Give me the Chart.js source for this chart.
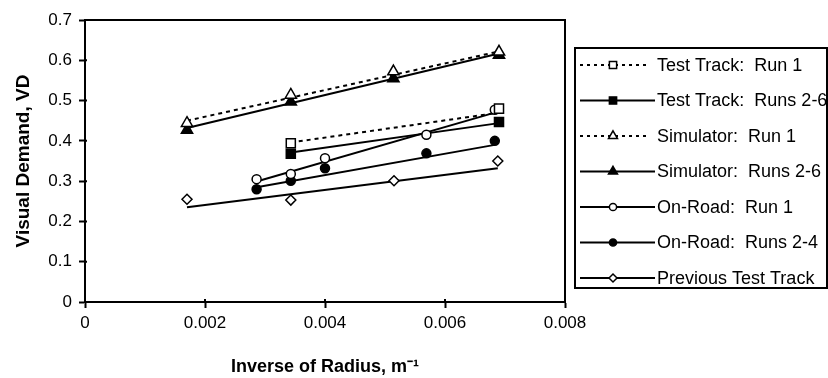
<!DOCTYPE html>
<html>
<head>
<meta charset="utf-8">
<script src="https://cdn.jsdelivr.net/npm/chart.js@4.4.1/dist/chart.umd.min.js"></script>
<style>
  html, body { margin: 0; padding: 0; background: #fff; }
  #wrap { width: 828px; height: 378px; position: relative; }
</style>
</head>
<body>
<div id="wrap"><canvas id="chart"></canvas></div>
<script>
// Valores (x = inversa del radio, y = demanda visual)
const seriesNames = [
  "Test Track:  Run 1",
  "Test Track:  Runs 2-6",
  "Simulator:  Run 1",
  "Simulator:  Runs 2-6",
  "On-Road:  Run 1",
  "On-Road:  Runs 2-4",
  "Previous Test Track"
];

const ttX = [0.00343, 0.0069];
const tt1Y = [0.394, 0.480];
const tt26Y = [0.368, 0.447];

const simX = [0.0017, 0.00343, 0.00514, 0.0069];
const sim1Y = [0.444, 0.514, 0.572, 0.621];
const sim26Y = [0.427, 0.497, 0.555, 0.613];

const roadX = [0.00286, 0.00343, 0.004, 0.00569, 0.00683];
const road1Y = [0.305, 0.318, 0.357, 0.415, 0.477];
const road24Y = [0.280, 0.301, 0.332, 0.369, 0.400];

const prevX = [0.0017, 0.00343, 0.00515, 0.00688];
const prevY = [0.255, 0.253, 0.301, 0.350];

// Líneas de tendencia: valor en el primer y último x de cada serie
const tt1Trend = [0.396, 0.470];
const tt26Trend = [0.371, 0.444];
const sim1Trend = [0.450, 0.622];
const sim26Trend = [0.432, 0.617];
const road1Trend = [0.299, 0.470];
const road24Trend = [0.285, 0.390];
const prevTrend = [0.235, 0.332];

const xTickLabels = ["0", "0.002", "0.004", "0.006", "0.008"];
const yTickLabels = ["0", "0.1", "0.2", "0.3", "0.4", "0.5", "0.6", "0.7"];

const FONT = "'Liberation Sans', Arial, sans-serif";
Chart.defaults.font.family = FONT;
Chart.defaults.color = "#000";

const markerRadius = { rect: 6.4, triangle: 6.5, circle: 4.5, rectRot: 5 };

const series = [
  { x: ttX,   y: tt1Y,    trend: tt1Trend,    marker: "rect",     filled: false, dashed: true },
  { x: ttX,   y: tt26Y,   trend: tt26Trend,   marker: "rect",     filled: true,  dashed: false },
  { x: simX,  y: sim1Y,   trend: sim1Trend,   marker: "triangle", filled: false, dashed: true },
  { x: simX,  y: sim26Y,  trend: sim26Trend,  marker: "triangle", filled: true,  dashed: false },
  { x: roadX, y: road1Y,  trend: road1Trend,  marker: "circle",   filled: false, dashed: false },
  { x: roadX, y: road24Y, trend: road24Trend, marker: "circle",   filled: true,  dashed: false },
  { x: prevX, y: prevY,   trend: prevTrend,   marker: "rectRot",  filled: false, dashed: false }
];

const datasets = [];
series.forEach((s, i) => {
  datasets.push({
    label: seriesNames[i],
    data: s.x.map((x, k) => ({ x: x, y: s.y[k] })),
    showLine: false,
    pointStyle: s.marker,
    pointRadius: markerRadius[s.marker],
    pointBackgroundColor: s.filled ? "#000" : "#fff",
    pointBorderColor: "#000",
    pointBorderWidth: 1.5,
    order: 1
  });
  datasets.push({
    label: seriesNames[i] + " trend",
    data: [
      { x: s.x[0], y: s.trend[0] },
      { x: s.x[s.x.length - 1], y: s.trend[1] }
    ],
    showLine: true,
    pointRadius: 0,
    borderColor: "#000",
    borderWidth: 2,
    borderDash: s.dashed ? [4, 4] : [],
    order: 2
  });
});

// Marco del área de trazado y marcas interiores de los ejes
const framePlugin = {
  id: "frame",
  afterDraw(chart) {
    const { ctx, chartArea: a, scales } = chart;
    ctx.save();
    ctx.strokeStyle = "#000";
    ctx.lineWidth = 2;
    ctx.strokeRect(a.left, a.top, a.right - a.left, a.bottom - a.top);
    ctx.beginPath();
    scales.x.ticks.forEach(t => {
      const px = scales.x.getPixelForValue(t.value);
      ctx.moveTo(px, a.bottom);
      ctx.lineTo(px, a.bottom - 3);
    });
    scales.y.ticks.forEach(t => {
      const py = scales.y.getPixelForValue(t.value);
      ctx.moveTo(a.left, py);
      ctx.lineTo(a.left + 2, py);
    });
    ctx.stroke();
    ctx.restore();
  }
};

// Leyenda con recuadro al estilo Excel
const legendPlugin = {
  id: "boxLegend",
  afterDraw(chart) {
    const ctx = chart.ctx;
    const box = { left: 575, top: 48, width: 252, height: 240 };
    ctx.save();
    ctx.strokeStyle = "#000";
    ctx.lineWidth = 2;
    ctx.strokeRect(box.left, box.top, box.width, box.height);
    ctx.font = "18px " + FONT;
    ctx.textBaseline = "middle";
    ctx.textAlign = "left";
    series.forEach((s, i) => {
      const y = box.top + 17 + i * 35.5;
      ctx.beginPath();
      ctx.lineWidth = 2;
      ctx.setLineDash(s.dashed ? [3, 4] : []);
      ctx.moveTo(580, y);
      ctx.lineTo(s.dashed ? 647 : 655, y);
      ctx.stroke();
      ctx.setLineDash([]);
      ctx.fillStyle = s.filled ? "#000" : "#fff";
      ctx.lineWidth = 1.5;
      Chart.helpers.drawPoint(ctx, {
        pointStyle: s.marker,
        radius: markerRadius[s.marker] * 0.8,
        rotation: 0,
        borderWidth: 1.5
      }, 613, y);
      ctx.fillStyle = "#000";
      ctx.fillText(seriesNames[i], 657, y + 1);
    });
    ctx.restore();
  }
};

new Chart(document.getElementById("chart"), {
  type: "scatter",
  data: { datasets: datasets },
  options: {
    responsive: true,
    maintainAspectRatio: false,
    animation: false,
    events: [],
    layout: { padding: { top: 20, right: 263, bottom: 0, left: 0 } },
    plugins: { legend: { display: false }, tooltip: { enabled: false } },
    scales: {
      x: {
        type: "linear",
        min: 0,
        max: 0.008,
        afterFit: scale => { scale.height = 76; },
        ticks: {
          stepSize: 0.002,
          padding: 5,
          font: { size: 17 },
          color: "#000",
          callback: (v, i) => xTickLabels[i]
        },
        grid: { drawOnChartArea: false, drawTicks: true, tickLength: 6, tickColor: "#000", tickWidth: 2 },
        border: { color: "#000", width: 2 },
        title: {
          display: true,
          text: "Inverse of Radius, m⁻¹",
          font: { size: 18, weight: "bold" },
          color: "#000",
          padding: { top: 0, bottom: 0 }
        }
      },
      y: {
        min: 0,
        max: 0.7,
        afterFit: scale => { scale.width = 85; },
        ticks: {
          stepSize: 0.1,
          padding: 7,
          font: { size: 17 },
          color: "#000",
          callback: (v, i) => yTickLabels[i]
        },
        grid: { drawOnChartArea: false, drawTicks: true, tickLength: 6, tickColor: "#000", tickWidth: 2 },
        border: { color: "#000", width: 2 },
        title: {
          display: true,
          text: "Visual Demand, VD",
          font: { size: 19, weight: "bold" },
          color: "#000",
          padding: { top: 12, bottom: 0 }
        }
      }
    }
  },
  plugins: [framePlugin, legendPlugin]
});
</script>
</body>
</html>
